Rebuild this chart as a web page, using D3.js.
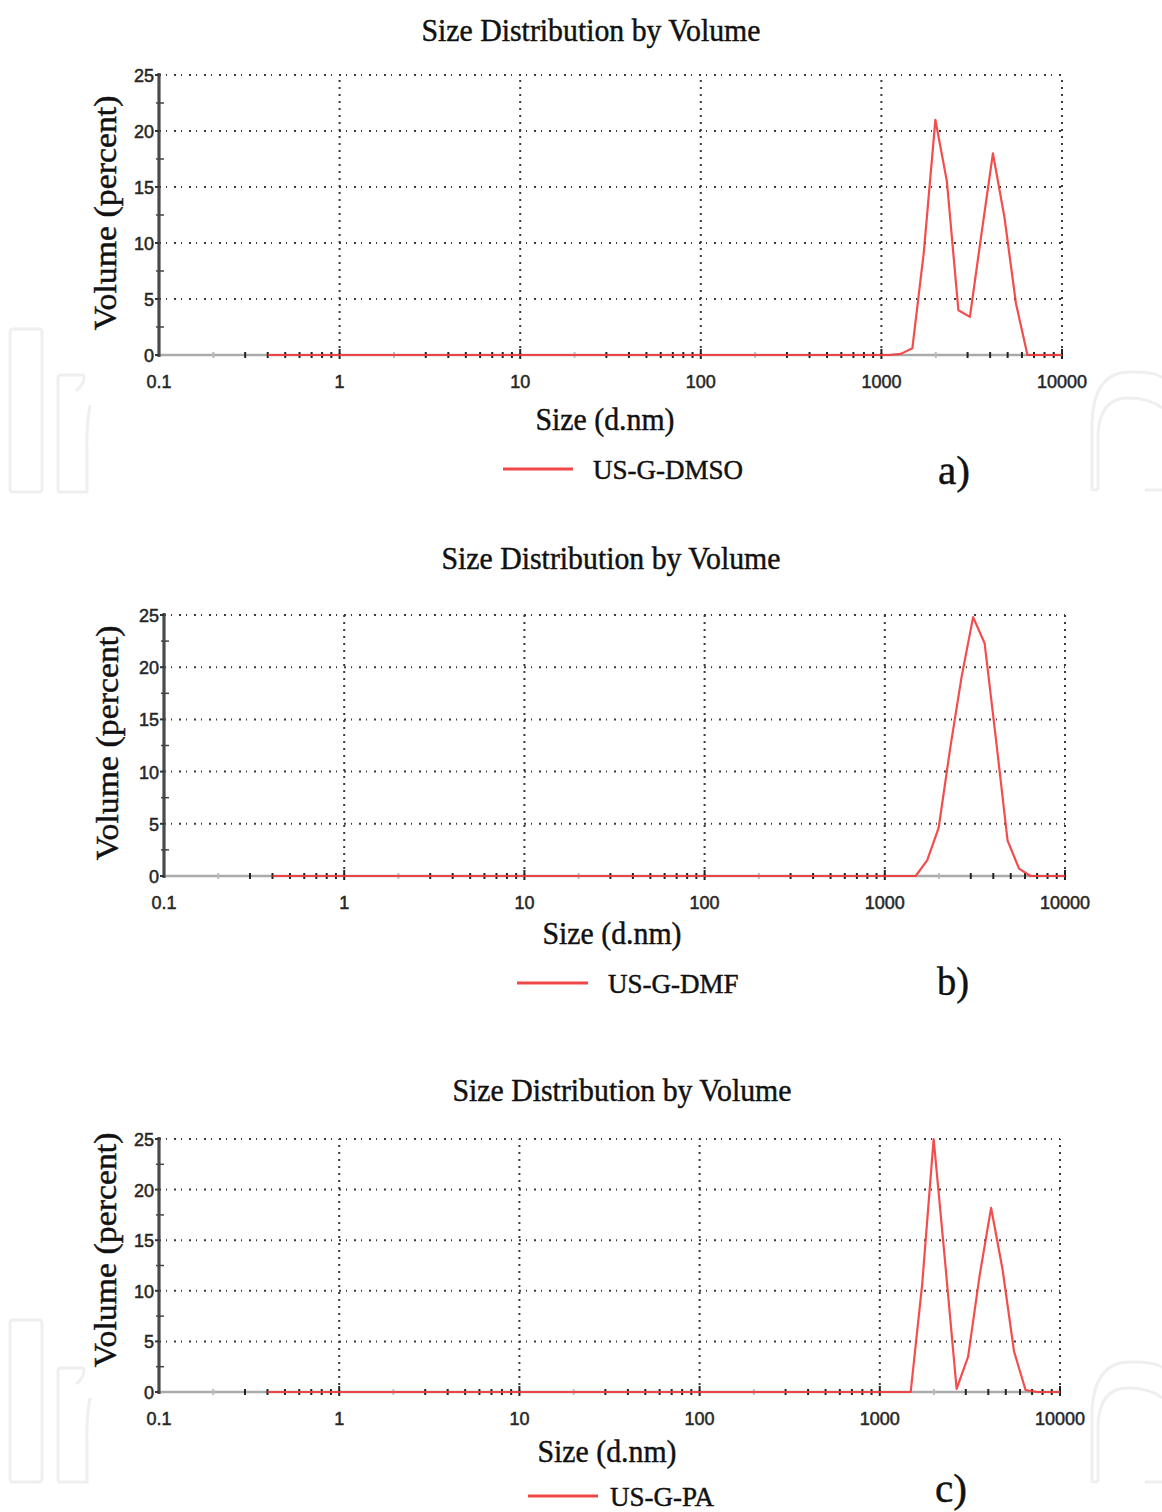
<!DOCTYPE html>
<html>
<head>
<meta charset="utf-8">
<script src="https://cdn.jsdelivr.net/npm/d3@7/dist/d3.min.js"></script>
<style>
  html, body { margin: 0; padding: 0; background: #fff; }
  svg { display: block; }
  .serif { font-family: "Liberation Serif", "Times New Roman", serif; fill: #111; stroke: #111; stroke-width: 0.45px; }
  .tick-label { font-family: "Liberation Sans", Arial, sans-serif; font-size: 18px; fill: #262626; stroke: #262626; stroke-width: 0.5px; }
</style>
</head>
<body>
<svg id="chart" width="1162" height="1512"></svg>
<script>
// Particle size bins (d.nm) shared by all three measurements
const sizes = [0.4, 1106, 1281, 1484, 1718, 1990, 2305, 2669, 3091, 3580, 4145, 4801, 5560, 6439, 7456, 10000];

// Volume (percent) per bin for each sample
const volDMSO = [0, 0, 0.1, 0.6, 9.2, 21.0, 15.5, 4.0, 3.4, 10.8, 18.0, 12.3, 4.6, 0, 0, 0];
const volDMF  = [0, 0, 0, 0, 1.5, 4.6, 12.2, 19.1, 24.8, 22.3, 13.0, 3.4, 0.7, 0, 0, 0];
const volPA   = [0, 0, 0, 0, 10.6, 25.0, 12.8, 0.3, 3.5, 11.5, 18.2, 12.1, 4.0, 0.2, 0, 0];

const seriesNames = ["US-G-DMSO", "US-G-DMF", "US-G-PA"];
const panelTags = ["a)", "b)", "c)"];

const xTicks = [0.1, 1, 10, 100, 1000, 10000];
const xTickLabels = ["0.1", "1", "10", "100", "1000", "10000"];
const yTicks = [0, 5, 10, 15, 20, 25];
const yTickLabels = ["0", "5", "10", "15", "20", "25"];

const titleText = "Size Distribution by Volume";
const xAxisTitle = "Size (d.nm)";
const yAxisTitle = "Volume (percent)";

// Page layout of the three stacked plots
const layout = [
  { x0: 159, x1: 1062, yBot: 355, yTop: 75, title: [591, 41], xlab: [605, 430], ylab: [116, 213],
    leg: [503, 573, 469, 593, 479], tag: [938, 484] },
  { x0: 164, x1: 1065, yBot: 876, yTop: 615, title: [611, 569], xlab: [612, 944], ylab: [118, 743],
    leg: [517, 588, 983, 608, 993], tag: [937, 995] },
  { x0: 159, x1: 1060, yBot: 1392, yTop: 1139, title: [622, 1101], xlab: [607, 1462], ylab: [116, 1250],
    leg: [528, 598, 1496, 610, 1506], tag: [935, 1502] }
];
const seriesValues = [volDMSO, volDMF, volPA];

const svg = d3.select("#chart");

// Faint publisher logo outlines in the margins
const wm = svg.append("g").attr("fill", "none").attr("stroke", "#efefef").attr("stroke-width", 3);
function logoLeft(top, bottom, top2) {
  wm.append("rect").attr("x", 10).attr("y", top).attr("width", 32).attr("height", bottom - top).attr("rx", 3);
  wm.append("path").attr("d",
    `M58,${bottom} V${top2 + 3} Q58,${top2} 61,${top2} H83 Q86,${top2 + 4} 80,${top2 + 12} L76,${top2 + 16}` +
    ` M90,${top2 + 30} Q86,${top2 + 50} 87,${top2 + 80} V${bottom} H58`);
}
function logoRight(top, bottom) {
  wm.append("path").attr("d",
    `M1092,${bottom} V${top + 50} Q1094,${top} 1130,${top} Q1158,${top} 1162,${top + 6}` +
    ` M1092,${bottom} H1098 M1098,${bottom} V${top + 62} Q1100,${top + 26} 1128,${top + 26} Q1150,${top + 26} 1162,${top + 36}` +
    ` M1145,${bottom} H1162`);
}
logoLeft(329, 492, 375);
logoRight(372, 490);
logoLeft(1320, 1482, 1368);
logoRight(1362, 1482);

layout.forEach((L, i) => {
  const values = seriesValues[i];
  const x = d3.scaleLog().domain([0.1, 10000]).range([L.x0, L.x1]);
  const y = d3.scaleLinear().domain([0, 25]).range([L.yBot, L.yTop]);
  const g = svg.append("g");

  // dotted grid: horizontal at major y ticks, vertical at each decade
  const grid = g.append("g").attr("stroke", "#3a3a3a").attr("stroke-width", 2);
  yTicks.filter(t => t > 0).forEach(t => {
    grid.append("line").attr("x1", L.x0).attr("x2", L.x1).attr("y1", y(t)).attr("y2", y(t))
      .attr("stroke-dasharray", "2,5,1,7");
  });
  xTicks.filter(t => t > 0.1).forEach(t => {
    grid.append("line").attr("x1", x(t)).attr("x2", x(t)).attr("y1", L.yBot).attr("y2", L.yTop)
      .attr("stroke-dasharray", "2,5");
  });

  // bottom axis line with log minor ticks
  g.append("line").attr("x1", L.x0).attr("x2", L.x1).attr("y1", L.yBot).attr("y2", L.yBot)
    .attr("stroke", "#aaa").attr("stroke-width", 2.5);
  const minor = [];
  xTicks.slice(0, -1).forEach(d => { for (let k = 2; k <= 9; k++) minor.push(d * k); });
  g.append("g").selectAll("line").data(minor).join("line")
    .attr("x1", d => x(d)).attr("x2", d => x(d))
    .attr("y1", L.yBot - 3).attr("y2", L.yBot + 3)
    .attr("stroke", (d, j) => (j % 8 === 0 ? "#bbb" : "#222")).attr("stroke-width", 2);
  g.append("g").selectAll("line").data(xTicks.slice(1)).join("line")
    .attr("x1", d => x(d)).attr("x2", d => x(d))
    .attr("y1", L.yBot - 6).attr("y2", L.yBot + 4)
    .attr("stroke", "#222").attr("stroke-width", 2);

  // distribution curve
  const line = d3.line().x((d, j) => x(sizes[j])).y(d => y(d));
  g.append("path").datum(values).attr("d", line)
    .attr("fill", "none").attr("stroke", "#f23a3a").attr("stroke-width", 2.2)
    .attr("stroke-linejoin", "round").attr("stroke-opacity", 0.9);

  // left axis, solid with major and half-step ticks
  g.append("line").attr("x1", L.x0).attr("x2", L.x0).attr("y1", L.yBot + 2).attr("y2", L.yTop - 2)
    .attr("stroke", "#4a4a4a").attr("stroke-width", 3.2);
  g.append("g").selectAll("line").data(yTicks).join("line")
    .attr("x1", L.x0 - 4).attr("x2", L.x0).attr("y1", d => y(d)).attr("y2", d => y(d))
    .attr("stroke", "#333").attr("stroke-width", 2);
  g.append("g").selectAll("line").data(yTicks.slice(0, -1).map(t => t + 2.5)).join("line")
    .attr("x1", L.x0 - 3).attr("x2", L.x0 + 5).attr("y1", d => y(d)).attr("y2", d => y(d))
    .attr("stroke", "#444").attr("stroke-width", 1.5);

  // tick labels
  g.append("g").selectAll("text").data(yTicks).join("text")
    .attr("class", "tick-label").attr("text-anchor", "end")
    .attr("x", L.x0 - 5).attr("y", d => y(d) + 7)
    .text((d, j) => yTickLabels[j]);
  g.append("g").selectAll("text").data(xTicks).join("text")
    .attr("class", "tick-label").attr("text-anchor", "middle")
    .attr("x", d => x(d)).attr("y", L.yBot + 33)
    .text((d, j) => xTickLabels[j]);

  // titles
  g.append("text").attr("class", "serif").attr("text-anchor", "middle")
    .attr("x", L.title[0]).attr("y", L.title[1]).attr("font-size", 32)
    .attr("textLength", 339).attr("lengthAdjust", "spacingAndGlyphs").text(titleText);
  g.append("text").attr("class", "serif").attr("text-anchor", "middle")
    .attr("x", L.xlab[0]).attr("y", L.xlab[1]).attr("font-size", 32)
    .attr("textLength", 139).attr("lengthAdjust", "spacingAndGlyphs").text(xAxisTitle);
  g.append("text").attr("class", "serif").attr("text-anchor", "middle")
    .attr("transform", `translate(${L.ylab[0]},${L.ylab[1]}) rotate(-90)`)
    .attr("font-size", 32).attr("textLength", 235).attr("lengthAdjust", "spacingAndGlyphs")
    .text(yAxisTitle);

  // legend
  g.append("line").attr("x1", L.leg[0]).attr("x2", L.leg[1]).attr("y1", L.leg[2]).attr("y2", L.leg[2])
    .attr("stroke", "#f04848").attr("stroke-width", 3);
  g.append("text").attr("class", "serif").attr("x", L.leg[3]).attr("y", L.leg[4])
    .attr("font-size", 27).text(seriesNames[i]);
  g.append("text").attr("class", "serif").attr("x", L.tag[0]).attr("y", L.tag[1])
    .attr("font-size", 40).attr("textLength", 32).attr("lengthAdjust", "spacingAndGlyphs")
    .text(panelTags[i]);
});
</script>
</body>
</html>
